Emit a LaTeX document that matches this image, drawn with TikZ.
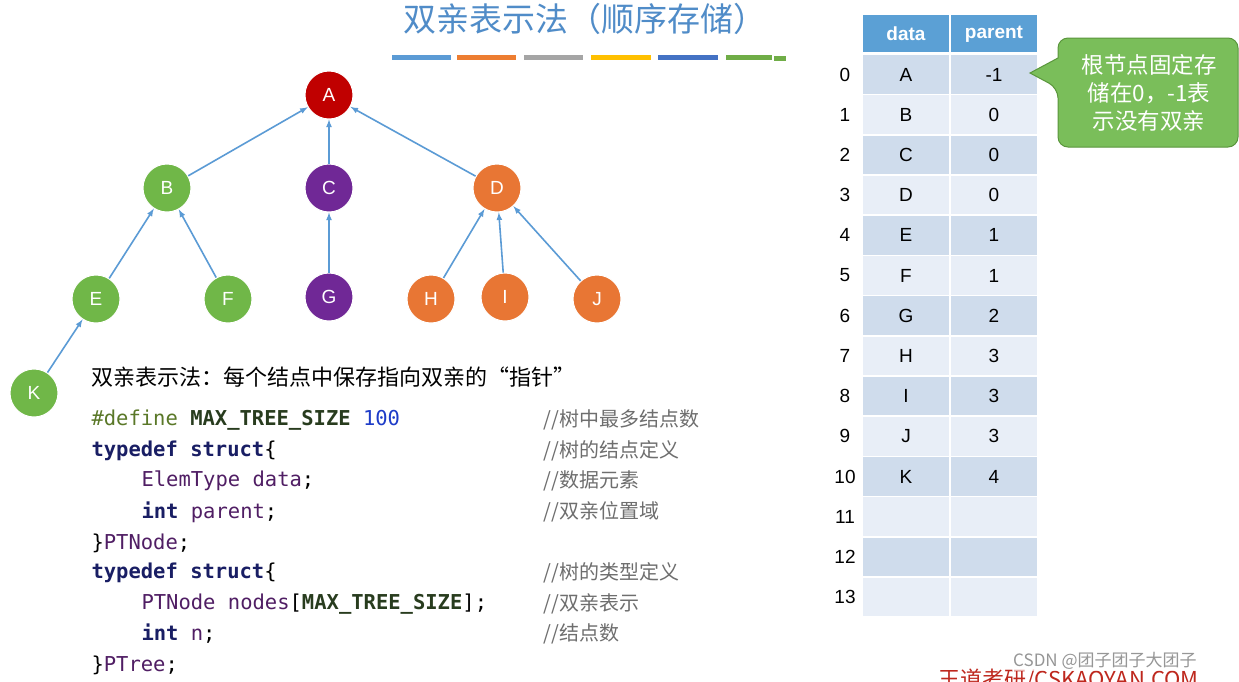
\documentclass[tikz,border=0pt]{standalone}
\usepackage{fontspec}
\setmainfont{Liberation Sans}
\setmonofont{DejaVu Sans Mono}
\newfontfamily\cjk{Noto Sans CJK SC}
\newfontfamily\cjkl{Noto Sans CJK SC}
\definecolor{kw}{RGB}{25,30,100}
\definecolor{idn}{RGB}{80,30,100}
\definecolor{df}{RGB}{90,120,40}
\definecolor{mac}{RGB}{40,60,30}
\definecolor{nm}{RGB}{30,60,200}
\definecolor{cb1}{RGB}{91,155,213}
\definecolor{cb2}{RGB}{237,125,49}
\definecolor{cb3}{RGB}{165,165,165}
\definecolor{cb4}{RGB}{255,192,0}
\definecolor{cb5}{RGB}{68,114,196}
\definecolor{cb6}{RGB}{112,173,71}
\definecolor{tgr}{RGB}{112,183,72}
\definecolor{tpu}{RGB}{112,40,150}
\definecolor{tog}{RGB}{232,118,52}
\definecolor{trd}{RGB}{192,0,0}
\definecolor{hdr}{RGB}{91,160,213}
\definecolor{rowa}{RGB}{207,220,236}
\definecolor{rowb}{RGB}{232,238,247}
\definecolor{cofill}{RGB}{122,190,90}
\definecolor{codraw}{RGB}{90,150,60}
\definecolor{ttl}{RGB}{80,140,200}
\definecolor{cmc}{RGB}{110,110,110}
\definecolor{wmr}{RGB}{190,40,30}
\definecolor{wmg}{RGB}{150,150,150}
\begin{document}
\begin{tikzpicture}[x=1pt,y=-1pt,
  tn/.style={circle,minimum size=48pt,inner sep=0pt,text=white,font=\fontsize{19}{19}\selectfont,draw=white,line width=1pt},
  gr/.style={tn,fill=tgr},
  pu/.style={tn,fill=tpu},
  og/.style={tn,fill=tog},
  rd/.style={tn,fill=trd},
  ed/.style={-latex,draw=cb1,line width=1.6pt},
  cell/.style={minimum width=86pt,minimum height=38.5pt,inner sep=0pt,font=\fontsize{19}{19}\selectfont},
  code/.style={anchor=west,font=\ttfamily\fontsize{20.5}{21}\selectfont},
  cmt/.style={anchor=west,font=\cjkl\fontsize{20}{20}\selectfont,text=cmc}]
\useasboundingbox (0,0) rectangle (1239,681);
\fill[white] (0,0) rectangle (1239,681);
% title
\node[font=\cjk\fontsize{33}{33}\selectfont,text=ttl] (title) at (585,19) {双亲表示法（顺序存储）};
\foreach \a/\b/\c in {392/451/cb1,457/516/cb2,524/583/cb3,591/651/cb4,658/718/cb5,726/772/cb6}
  \fill[\c] (\a,55) rectangle (\b,60);
\fill[cb6] (774,56) rectangle (786,61);
% tree
\node[rd] (A) at (329,95) {A};
\node[gr] (B) at (167,188) {B};
\node[pu] (C) at (329,188) {C};
\node[og] (D) at (497,188) {D};
\node[gr] (E) at (96,299) {E};
\node[gr] (F) at (228,299) {F};
\node[pu] (G) at (329,297) {G};
\node[og] (H) at (431,299) {H};
\node[og] (I) at (505,297) {I};
\node[og] (J) at (597,299) {J};
\node[gr] (K) at (34,393) {K};
\foreach \c/\p in {B/A,C/A,D/A,E/B,F/B,G/C,H/D,I/D,J/D,K/E} \draw[ed] (\c) -- (\p);
% text
\node[anchor=west,font=\cjk\fontsize{22}{22}\selectfont] (desc) at (88,377) {双亲表示法：每个结点中保存指向双亲的“指针”};
\node[code] (l1) at (88,420) {\textcolor{df}{\#define} \textcolor{mac}{\bfseries MAX\_TREE\_SIZE} \textcolor{nm}{100}};
\node[code] (l2) at (88,451) {\textcolor{kw}{\bfseries typedef struct}\{};
\node[code] (l3) at (138,481) {\textcolor{idn}{ElemType data};};
\node[code] (l4) at (138,512) {\textcolor{kw}{\bfseries int} \textcolor{idn}{parent};};
\node[code] (l5) at (88,543) {\}\textcolor{idn}{PTNode};};
\node[code] (l6) at (88,573) {\textcolor{kw}{\bfseries typedef struct}\{};
\node[code] (l7) at (138,604) {\textcolor{idn}{PTNode nodes}[\textcolor{mac}{\bfseries MAX\_TREE\_SIZE}];};
\node[code] (l8) at (138,634) {\textcolor{kw}{\bfseries int} \textcolor{idn}{n};};
\node[code] (l9) at (88,665) {\}\textcolor{idn}{PTree};};
\node[cmt] (c1) at (540,420) {//树中最多结点数};
\node[cmt] (c2) at (540,451) {//树的结点定义};
\node[cmt] (c3) at (540,481) {//数据元素};
\node[cmt] (c4) at (540,512) {//双亲位置域};
\node[cmt] (c6) at (540,573) {//树的类型定义};
\node[cmt] (c7) at (540,604) {//双亲表示};
\node[cmt] (c8) at (540,634) {//结点数};
% table
\fill[hdr] (863,15) rectangle (949,52);
\fill[hdr] (951,15) rectangle (1037,52);
\node[font=\bfseries\fontsize{19}{19}\selectfont,text=white] (hd) at (906,34) {data};
\node[font=\bfseries\fontsize{19}{19}\selectfont,text=white] (hp) at (994,34) {parent};
\foreach \i/\d/\p in {0/A/-1,1/B/0,2/C/0,3/D/0,4/E/1,5/F/1,6/G/2,7/H/3,8/I/3,9/J/3,10/K/4,11//,12//,13//}{
  \pgfmathsetmacro{\yy}{74.5+40.2*\i}
  \pgfmathtruncatemacro{\od}{mod(\i,2)}
  \ifnum\od=0 \def\rc{rowa}\else\def\rc{rowb}\fi
  \node[cell,fill=\rc] (d\i) at (906,\yy) {\d};
  \node[cell,fill=\rc] (p\i) at (994,\yy) {\p};
  \node[font=\fontsize{19}{19}\selectfont] (n\i) at (845,\yy) {\i};
}
% callout
\draw[fill=cofill,draw=codraw,line width=1pt,rounded corners=10pt]
  (1058,38) -- (1238,38) -- (1238,147) -- (1058,147) -- (1058,88) [sharp corners]-- (1030,73) -- (1058,58) [rounded corners=10pt]-- cycle;
\node[font=\cjk\fontsize{22.5}{28}\selectfont,text=white,align=center] (callout) at (1149,93) {根节点固定存\\储在0，-1表\\示没有双亲};
% watermark
\node[anchor=west,font=\cjk\fontsize{22}{22}\selectfont,text=wmr] (wm) at (935,680) {王道考研/CSKAOYAN.COM};
\node[anchor=west,font=\cjk\fontsize{17}{17}\selectfont,text=wmg,fill=white,fill opacity=0.6,text opacity=1,inner sep=1pt] (csdn) at (1012,661) {CSDN @团子团子大团子};
\end{tikzpicture}
\end{document}
